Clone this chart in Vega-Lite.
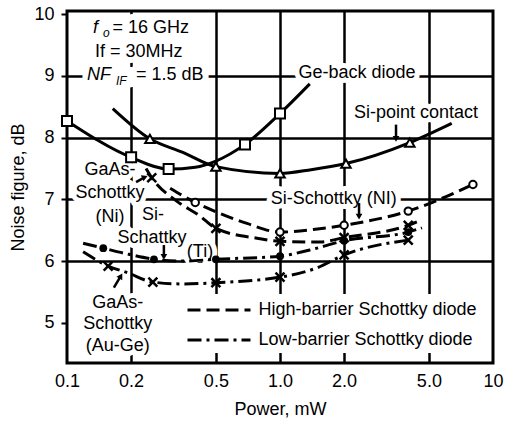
{
  "$schema": "https://vega.github.io/schema/vega-lite/v6.json",
  "width": 426,
  "height": 352,
  "autosize": "none",
  "padding": {"left": 67, "top": 11, "right": 14, "bottom": 58},
  "background": "white",
  "config": {
    "view": {"stroke": "black", "strokeWidth": 3},
    "font": "Liberation Sans",
    "axis": {
      "labelFont": "Liberation Sans",
      "titleFont": "Liberation Sans",
      "labelFontSize": 18,
      "titleFontSize": 18,
      "labelColor": "black",
      "titleColor": "black",
      "titleFontWeight": "normal",
      "domain": false,
      "gridColor": "black",
      "gridWidth": 2.5,
      "tickColor": "black",
      "tickWidth": 2
    }
  },
  "datasets": {
    "curves": [
      {"series": "Ge-back diode", "barrier": null, "x": 0.1, "y": 8.27, "marked": true},
      {"series": "Ge-back diode", "barrier": null, "x": 0.2, "y": 7.68, "marked": true},
      {"series": "Ge-back diode", "barrier": null, "x": 0.3, "y": 7.49, "marked": true},
      {"series": "Ge-back diode", "barrier": null, "x": 0.4, "y": 7.52, "marked": false},
      {"series": "Ge-back diode", "barrier": null, "x": 0.5, "y": 7.62, "marked": false},
      {"series": "Ge-back diode", "barrier": null, "x": 0.685, "y": 7.89, "marked": true},
      {"series": "Ge-back diode", "barrier": null, "x": 1.0, "y": 8.39, "marked": true},
      {"series": "Ge-back diode", "barrier": null, "x": 1.38, "y": 8.87, "marked": false},
      {"series": "Si-point contact", "barrier": null, "x": 0.164, "y": 8.47, "marked": false},
      {"series": "Si-point contact", "barrier": null, "x": 0.245, "y": 7.98, "marked": true},
      {"series": "Si-point contact", "barrier": null, "x": 0.35, "y": 7.76, "marked": false},
      {"series": "Si-point contact", "barrier": null, "x": 0.5, "y": 7.53, "marked": true},
      {"series": "Si-point contact", "barrier": null, "x": 1.0, "y": 7.42, "marked": true},
      {"series": "Si-point contact", "barrier": null, "x": 1.4, "y": 7.48, "marked": false},
      {"series": "Si-point contact", "barrier": null, "x": 2.04, "y": 7.58, "marked": true},
      {"series": "Si-point contact", "barrier": null, "x": 4.07, "y": 7.92, "marked": true},
      {"series": "Si-point contact", "barrier": null, "x": 6.4, "y": 8.23, "marked": false},
      {"series": "GaAs-Schottky (Ni)", "barrier": "High-barrier Schottky diode", "x": 0.235, "y": 7.5, "marked": false},
      {"series": "GaAs-Schottky (Ni)", "barrier": "High-barrier Schottky diode", "x": 0.25, "y": 7.35, "marked": true},
      {"series": "GaAs-Schottky (Ni)", "barrier": "High-barrier Schottky diode", "x": 0.325, "y": 6.98, "marked": false},
      {"series": "GaAs-Schottky (Ni)", "barrier": "High-barrier Schottky diode", "x": 0.417, "y": 6.74, "marked": false},
      {"series": "GaAs-Schottky (Ni)", "barrier": "High-barrier Schottky diode", "x": 0.5, "y": 6.53, "marked": true},
      {"series": "GaAs-Schottky (Ni)", "barrier": "High-barrier Schottky diode", "x": 0.78, "y": 6.37, "marked": false},
      {"series": "GaAs-Schottky (Ni)", "barrier": "High-barrier Schottky diode", "x": 1.0, "y": 6.32, "marked": true},
      {"series": "GaAs-Schottky (Ni)", "barrier": "High-barrier Schottky diode", "x": 1.54, "y": 6.31, "marked": false},
      {"series": "GaAs-Schottky (Ni)", "barrier": "High-barrier Schottky diode", "x": 2.0, "y": 6.38, "marked": true},
      {"series": "GaAs-Schottky (Ni)", "barrier": "High-barrier Schottky diode", "x": 4.0, "y": 6.58, "marked": true},
      {"series": "GaAs-Schottky (Ni)", "barrier": "High-barrier Schottky diode", "x": 4.64, "y": 6.67, "marked": false},
      {"series": "Si-Schottky (NI)", "barrier": "High-barrier Schottky diode", "x": 0.305, "y": 7.18, "marked": false},
      {"series": "Si-Schottky (NI)", "barrier": "High-barrier Schottky diode", "x": 0.4, "y": 6.95, "marked": true},
      {"series": "Si-Schottky (NI)", "barrier": "High-barrier Schottky diode", "x": 0.5, "y": 6.8, "marked": false},
      {"series": "Si-Schottky (NI)", "barrier": "High-barrier Schottky diode", "x": 0.7, "y": 6.61, "marked": false},
      {"series": "Si-Schottky (NI)", "barrier": "High-barrier Schottky diode", "x": 1.0, "y": 6.47, "marked": true},
      {"series": "Si-Schottky (NI)", "barrier": "High-barrier Schottky diode", "x": 1.5, "y": 6.52, "marked": false},
      {"series": "Si-Schottky (NI)", "barrier": "High-barrier Schottky diode", "x": 2.0, "y": 6.58, "marked": true},
      {"series": "Si-Schottky (NI)", "barrier": "High-barrier Schottky diode", "x": 4.0, "y": 6.81, "marked": true},
      {"series": "Si-Schottky (NI)", "barrier": "High-barrier Schottky diode", "x": 8.05, "y": 7.24, "marked": true},
      {"series": "Si-Schottky (Ti)", "barrier": "Low-barrier Schottky diode", "x": 0.119, "y": 6.29, "marked": false},
      {"series": "Si-Schottky (Ti)", "barrier": "Low-barrier Schottky diode", "x": 0.148, "y": 6.21, "marked": true},
      {"series": "Si-Schottky (Ti)", "barrier": "Low-barrier Schottky diode", "x": 0.195, "y": 6.11, "marked": false},
      {"series": "Si-Schottky (Ti)", "barrier": "Low-barrier Schottky diode", "x": 0.256, "y": 6.03, "marked": true},
      {"series": "Si-Schottky (Ti)", "barrier": "Low-barrier Schottky diode", "x": 0.35, "y": 6.0, "marked": false},
      {"series": "Si-Schottky (Ti)", "barrier": "Low-barrier Schottky diode", "x": 0.5, "y": 6.03, "marked": true},
      {"series": "Si-Schottky (Ti)", "barrier": "Low-barrier Schottky diode", "x": 1.0, "y": 6.08, "marked": true},
      {"series": "Si-Schottky (Ti)", "barrier": "Low-barrier Schottky diode", "x": 1.38, "y": 6.18, "marked": false},
      {"series": "Si-Schottky (Ti)", "barrier": "Low-barrier Schottky diode", "x": 2.0, "y": 6.33, "marked": true},
      {"series": "Si-Schottky (Ti)", "barrier": "Low-barrier Schottky diode", "x": 4.0, "y": 6.47, "marked": true},
      {"series": "Si-Schottky (Ti)", "barrier": "Low-barrier Schottky diode", "x": 4.64, "y": 6.54, "marked": false},
      {"series": "GaAs-Schottky (Au-Ge)", "barrier": "Low-barrier Schottky diode", "x": 0.119, "y": 6.15, "marked": false},
      {"series": "GaAs-Schottky (Au-Ge)", "barrier": "Low-barrier Schottky diode", "x": 0.156, "y": 5.92, "marked": true},
      {"series": "GaAs-Schottky (Au-Ge)", "barrier": "Low-barrier Schottky diode", "x": 0.193, "y": 5.81, "marked": false},
      {"series": "GaAs-Schottky (Au-Ge)", "barrier": "Low-barrier Schottky diode", "x": 0.253, "y": 5.66, "marked": true},
      {"series": "GaAs-Schottky (Au-Ge)", "barrier": "Low-barrier Schottky diode", "x": 0.35, "y": 5.63, "marked": false},
      {"series": "GaAs-Schottky (Au-Ge)", "barrier": "Low-barrier Schottky diode", "x": 0.5, "y": 5.65, "marked": true},
      {"series": "GaAs-Schottky (Au-Ge)", "barrier": "Low-barrier Schottky diode", "x": 1.0, "y": 5.74, "marked": true},
      {"series": "GaAs-Schottky (Au-Ge)", "barrier": "Low-barrier Schottky diode", "x": 1.49, "y": 5.89, "marked": false},
      {"series": "GaAs-Schottky (Au-Ge)", "barrier": "Low-barrier Schottky diode", "x": 2.0, "y": 6.1, "marked": true},
      {"series": "GaAs-Schottky (Au-Ge)", "barrier": "Low-barrier Schottky diode", "x": 4.0, "y": 6.34, "marked": true}
    ],
    "labels": [
      {"text": "Ge-back diode", "x": 2.3, "y": 9.04},
      {"text": "Si-point contact", "x": 4.35, "y": 8.4},
      {"text": "GaAs-", "x": 0.159, "y": 7.48},
      {"text": "Schottky", "x": 0.159, "y": 7.11},
      {"text": "(Ni)", "x": 0.159, "y": 6.72},
      {"text": "Si-", "x": 0.2535, "y": 6.75},
      {"text": "Schattky", "x": 0.2506, "y": 6.38},
      {"text": "(Ti)", "x": 0.421, "y": 6.15},
      {"text": "GaAs-", "x": 0.173, "y": 5.32},
      {"text": "Schottky", "x": 0.173, "y": 4.98},
      {"text": "(Au-Ge)", "x": 0.173, "y": 4.63},
      {"text": "Si-Schottky (NI)", "x": 1.79, "y": 7.01}
    ],
    "params": [
      {"text": "f", "kind": "italic", "x": 0.1324, "y": 9.78},
      {"text": "o", "kind": "sub", "x": 0.1475, "y": 9.7},
      {"text": "= 16 GHz", "kind": "regular", "x": 0.1636, "y": 9.78},
      {"text": "If = 30MHz", "kind": "regular", "x": 0.1353, "y": 9.39},
      {"text": "NF", "kind": "italic", "x": 0.1242, "y": 9.02},
      {"text": "IF", "kind": "sub", "x": 0.1698, "y": 8.91},
      {"text": "= 1.5 dB", "kind": "regular", "x": 0.211, "y": 9.02}
    ],
    "arrows": [
      {"id": "a1", "dir": "down", "x": 3.505, "y": 8.21, "x2": 3.505, "y2": 7.98},
      {"id": "a2", "dir": "down", "x": 2.35, "y": 6.94, "x2": 2.35, "y2": 6.72},
      {"id": "a3", "dir": "down", "x": 0.285, "y": 6.26, "x2": 0.285, "y2": 6.07},
      {"id": "a4", "dir": "ne", "x": 0.211, "y": 7.28, "x2": 0.232, "y2": 7.36},
      {"id": "a5", "dir": "nne", "x": 0.166, "y": 5.57, "x2": 0.179, "y2": 5.76}
    ]
  },
  "encoding": {
    "x": {
      "field": "x",
      "type": "quantitative",
      "scale": {"type": "log", "domain": [0.1, 10], "nice": false},
      "axis": {
        "title": "Power, mW",
        "values": [0.1, 0.2, 0.5, 1, 2, 5, 10],
        "labelExpr": "datum.value >= 10 ? '10' : format(datum.value, '.1f')",
        "tickSize": 0,
        "labelPadding": 9,
        "titlePadding": 10,
        "labelFlush": false,
        "labelOverlap": false,
        "grid": true,
        "gridOpacity": {"condition": {"test": "datum.value <= 0.1 || datum.value >= 10", "value": 0}, "value": 1}
      }
    },
    "y": {
      "field": "y",
      "type": "quantitative",
      "scale": {"domain": [4.35, 10.05], "nice": false, "zero": false},
      "axis": {
        "title": "Noise figure, dB",
        "values": [5, 6, 7, 8, 9, 10],
        "tickSize": 6,
        "labelPadding": 7,
        "titlePadding": 6,
        "grid": true,
        "gridOpacity": {"condition": {"test": "datum.value == 5 || datum.value == 10", "value": 0}, "value": 1}
      }
    }
  },
  "layer": [
    {
      "data": {"name": "labels"},
      "mark": {"type": "text", "font": "Liberation Sans", "fontSize": 18, "align": "center", "baseline": "middle", "fill": "white", "stroke": "white", "strokeWidth": 10, "strokeJoin": "round"},
      "encoding": {"text": {"field": "text"}}
    },
    {
      "data": {"name": "params"},
      "mark": {"type": "text", "font": "Liberation Sans", "fontSize": 18, "align": "left", "baseline": "middle", "fill": "white", "stroke": "white", "strokeWidth": 12, "strokeJoin": "round"},
      "encoding": {"text": {"field": "text"}}
    },
    {
      "data": {"name": "curves"},
      "transform": [{"filter": "datum.barrier == null"}],
      "mark": {"type": "line", "interpolate": "monotone", "stroke": "black", "strokeWidth": 3},
      "encoding": {"detail": {"field": "series"}}
    },
    {
      "data": {"name": "curves"},
      "transform": [{"filter": "datum.barrier != null"}],
      "mark": {"type": "line", "interpolate": "monotone", "stroke": "black", "strokeWidth": 3},
      "encoding": {
        "detail": {"field": "series"},
        "strokeDash": {
          "field": "barrier",
          "type": "nominal",
          "scale": {"domain": ["High-barrier Schottky diode", "Low-barrier Schottky diode"], "range": [[13, 6], [14, 5, 3, 5]]},
          "legend": {
            "orient": "none",
            "legendX": 136,
            "legendY": 283,
            "title": null,
            "symbolType": "M-3,0H3",
            "symbolSize": 441,
            "symbolStrokeWidth": 3,
            "symbolStrokeColor": "black",
            "symbolFillColor": "transparent",
            "labelFont": "Liberation Sans",
            "labelFontSize": 18,
            "labelColor": "black",
            "labelOffset": 27.5,
            "labelLimit": 400,
            "rowPadding": 9,
            "padding": 4,
            "fillColor": "white"
          }
        }
      }
    },
    {
      "data": {"name": "curves"},
      "transform": [{"filter": "datum.series == 'Ge-back diode' && datum.marked"}],
      "mark": {"type": "point", "shape": "square", "size": 100, "filled": true, "fill": "white", "stroke": "black", "strokeWidth": 2, "opacity": 1}
    },
    {
      "data": {"name": "curves"},
      "transform": [{"filter": "datum.series == 'Si-point contact' && datum.marked"}],
      "mark": {"type": "point", "shape": "triangle-up", "size": 90, "filled": true, "fill": "white", "stroke": "black", "strokeWidth": 2, "opacity": 1}
    },
    {
      "data": {"name": "curves"},
      "transform": [{"filter": "datum.series == 'Si-Schottky (NI)' && datum.marked"}],
      "mark": {"type": "point", "shape": "circle", "size": 55, "filled": true, "fill": "white", "stroke": "black", "strokeWidth": 2, "opacity": 1}
    },
    {
      "data": {"name": "curves"},
      "transform": [{"filter": "datum.series == 'Si-Schottky (Ti)' && datum.marked"}],
      "mark": {"type": "point", "shape": "circle", "size": 60, "filled": true, "fill": "black", "opacity": 1}
    },
    {
      "data": {"name": "curves"},
      "transform": [{"filter": "(datum.series == 'GaAs-Schottky (Ni)' || datum.series == 'GaAs-Schottky (Au-Ge)') && datum.marked"}],
      "mark": {"type": "point", "shape": "M-1,-1L1,1M-1,1L1,-1", "size": 80, "filled": false, "stroke": "black", "strokeWidth": 2.5, "opacity": 1}
    },
    {
      "data": {"name": "arrows"},
      "mark": {"type": "rule", "stroke": "black", "strokeWidth": 2.5},
      "encoding": {"x2": {"field": "x2"}, "y2": {"field": "y2"}}
    },
    {
      "data": {"name": "arrows"},
      "transform": [{"filter": "datum.dir == 'down'"}],
      "mark": {"type": "point", "shape": "triangle-down", "size": 45, "filled": true, "fill": "black", "opacity": 1},
      "encoding": {"x": {"field": "x2", "type": "quantitative"}, "y": {"field": "y2", "type": "quantitative"}}
    },
    {
      "data": {"name": "arrows"},
      "transform": [{"filter": "datum.dir == 'ne'"}],
      "mark": {"type": "point", "shape": "triangle-up", "size": 45, "angle": 67, "filled": true, "fill": "black", "opacity": 1},
      "encoding": {"x": {"field": "x2", "type": "quantitative"}, "y": {"field": "y2", "type": "quantitative"}}
    },
    {
      "data": {"name": "arrows"},
      "transform": [{"filter": "datum.dir == 'nne'"}],
      "mark": {"type": "point", "shape": "triangle-up", "size": 45, "angle": 31, "filled": true, "fill": "black", "opacity": 1},
      "encoding": {"x": {"field": "x2", "type": "quantitative"}, "y": {"field": "y2", "type": "quantitative"}}
    },
    {
      "data": {"name": "labels"},
      "mark": {"type": "text", "font": "Liberation Sans", "fontSize": 18, "align": "center", "baseline": "middle", "fill": "black"},
      "encoding": {"text": {"field": "text"}}
    },
    {
      "data": {"name": "params"},
      "transform": [{"filter": "datum.kind == 'regular'"}],
      "mark": {"type": "text", "font": "Liberation Sans", "fontSize": 18, "align": "left", "baseline": "middle", "fill": "black"},
      "encoding": {"text": {"field": "text"}}
    },
    {
      "data": {"name": "params"},
      "transform": [{"filter": "datum.kind == 'italic'"}],
      "mark": {"type": "text", "font": "Liberation Sans", "fontSize": 18, "fontStyle": "italic", "align": "left", "baseline": "middle", "fill": "black"},
      "encoding": {"text": {"field": "text"}}
    },
    {
      "data": {"name": "params"},
      "transform": [{"filter": "datum.kind == 'sub'"}],
      "mark": {"type": "text", "font": "Liberation Sans", "fontSize": 12, "fontStyle": "italic", "align": "left", "baseline": "middle", "fill": "black"},
      "encoding": {"text": {"field": "text"}}
    }
  ]
}
